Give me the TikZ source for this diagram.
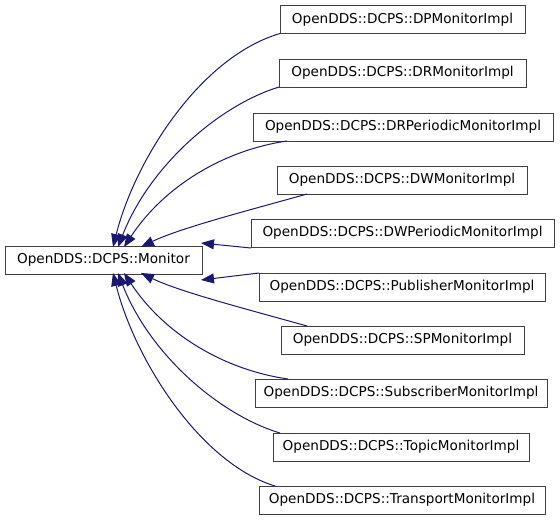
\documentclass[tikz,border=0pt]{standalone}
\usepackage{fontspec}
\setmainfont{DejaVu Sans}
\usetikzlibrary{arrows.meta}
\definecolor{edgeblue}{RGB}{25,25,112}
\definecolor{boxline}{RGB}{64,64,64}
\begin{document}
\begin{tikzpicture}[x=1pt,y=-1pt,
  cls/.style={draw=boxline,line width=1pt,fill=white,inner sep=0pt,outer sep=0pt,minimum height=28pt,font=\fontsize{13.6}{16}\selectfont},
  inh/.style={draw=edgeblue,line width=1pt,-{Triangle[length=13pt,width=10pt]},edgeblue}]
\useasboundingbox (0,0) rectangle (560,520);
\fill[white] (0,0) rectangle (560,520);
\node[cls,minimum width=197pt] (mon) at (103.5,260) {OpenDDS::DCPS::Monitor};
\node[cls,minimum width=245pt] (dp) at (402.5,19.5) {OpenDDS::DCPS::DPMonitorImpl};
\node[cls,minimum width=247pt] (dr) at (402.5,73) {OpenDDS::DCPS::DRMonitorImpl};
\node[cls,minimum width=300pt] (drp) at (403,127) {OpenDDS::DCPS::DRPeriodicMonitorImpl};
\node[cls,minimum width=250pt] (dw) at (402,180) {OpenDDS::DCPS::DWMonitorImpl};
\node[cls,minimum width=303pt] (dwp) at (402.5,233) {OpenDDS::DCPS::DWPeriodicMonitorImpl};
\node[cls,minimum width=286pt] (pub) at (402,287) {OpenDDS::DCPS::PublisherMonitorImpl};
\node[cls,minimum width=243pt] (sp) at (402.5,340) {OpenDDS::DCPS::SPMonitorImpl};
\node[cls,minimum width=292pt] (sub) at (401,393) {OpenDDS::DCPS::SubscriberMonitorImpl};
\node[cls,minimum width=256pt] (top) at (401,447) {OpenDDS::DCPS::TopicMonitorImpl};
\node[cls,minimum width=286pt] (tr) at (402,500) {OpenDDS::DCPS::TransportMonitorImpl};
% edges
\draw[inh] (dp.south west) .. controls (200,57) and (135,160) .. ([xshift=108pt,yshift=-1pt]mon.north west);
\draw[inh] (dr.south west) .. controls (220,105) and (150,165) .. ([xshift=113pt,yshift=-1pt]mon.north west);
\draw[inh] ([xshift=34pt]drp.south west) .. controls (225,150) and (165,185) .. ([xshift=119pt,yshift=-1pt]mon.north west);
\draw[inh] ([xshift=30pt]dw.south west) .. controls (250,210) and (180,228) .. ([xshift=136pt,yshift=-1pt]mon.north west);
\draw[inh] ([yshift=-1pt]dwp.south west) -- ([xshift=-1pt,yshift=3pt]mon.north east);
\draw[inh] (pub.north west) -- ([xshift=-1pt,yshift=-6pt]mon.south east);
\draw[inh] ([xshift=26pt]sp.north west) .. controls (250,310) and (180,292) .. ([xshift=136pt,yshift=1pt]mon.south west);
\draw[inh] ([xshift=33pt]sub.north west) .. controls (225,370) and (165,335) .. ([xshift=119pt,yshift=1pt]mon.south west);
\draw[inh] ([xshift=7pt]top.north west) .. controls (220,415) and (150,355) .. ([xshift=113pt,yshift=1pt]mon.south west);
\draw[inh] ([xshift=16pt]tr.north west) .. controls (200,463) and (135,360) .. ([xshift=108pt,yshift=1pt]mon.south west);
\end{tikzpicture}
\end{document}
